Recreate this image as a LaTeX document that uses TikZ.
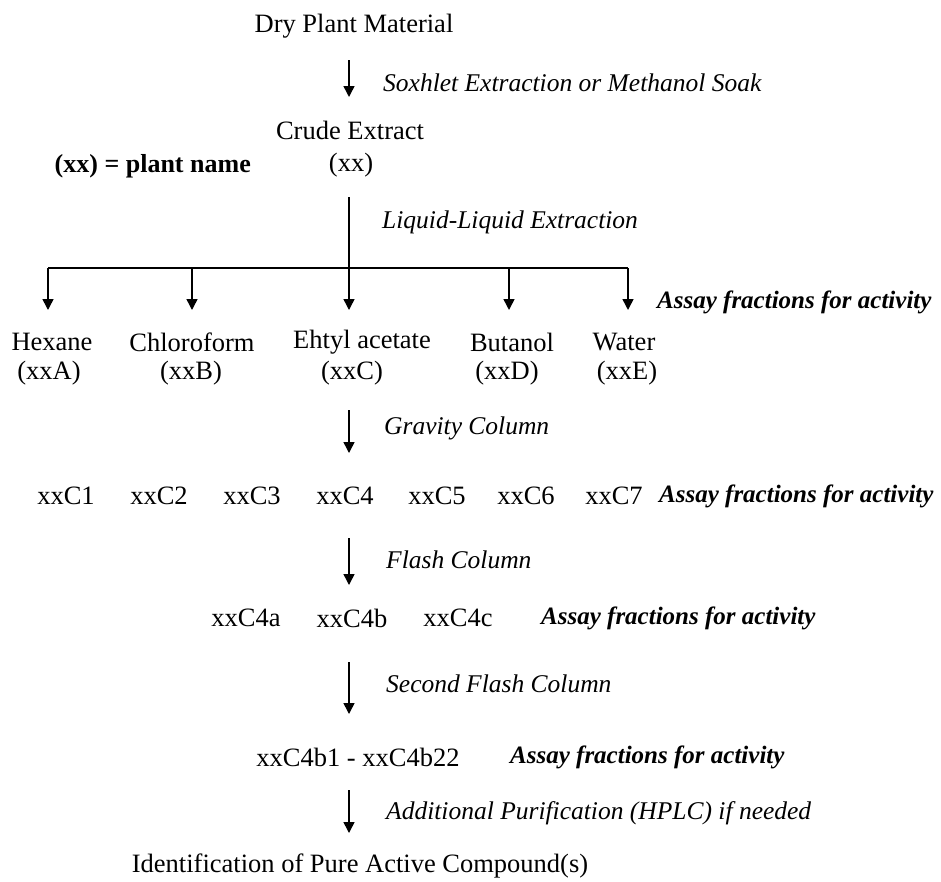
\documentclass[tikz,border=0pt]{standalone}
\usepackage{fontspec}
\setmainfont{Liberation Serif}
\usetikzlibrary{arrows.meta}
\begin{document}
\begin{tikzpicture}[x=1pt,y=-1pt,
  txt/.style={font=\fontsize{26.5}{28}\selectfont, inner sep=0pt},
  lab/.style={font=\fontsize{25.5}{28}\selectfont\itshape, inner sep=0pt, anchor=west},
  assay/.style={font=\fontsize{25}{28}\selectfont\bfseries\itshape, inner sep=0pt, anchor=west},
  flow/.style={line width=1.5pt, -{Triangle[width=11pt,length=11pt]}},
  line/.style={line width=1.5pt}]
\useasboundingbox (0,0) rectangle (941,881);
\coordinate (axis) at (349,0);

\node[txt] (dry) at (354,26) {Dry Plant Material};
\node[lab] (sox) at (383,83) {Soxhlet Extraction or Methanol Soak};
\node[txt] (crude) at (350,130) {Crude Extract};
\node[txt] (xx) at (351,165) {(xx)};
\node[txt, font=\fontsize{26}{28}\selectfont\bfseries, anchor=east] (pn) at (251,166) {(xx) = plant name};
\node[lab] (lle) at (382,222) {Liquid-Liquid Extraction};

\draw[flow, shorten <=34pt, shorten >=33pt] (axis|-dry) -- (axis|-crude);

\coordinate (busC) at (349,268);
\coordinate (busA) at (48,268);
\coordinate (busB) at (192,268);
\coordinate (busD) at (509,268);
\coordinate (busE) at (628,268);

\node[txt] (hex) at (52,342) {Hexane};
\node[txt] (hexs) at (49,373) {(xxA)};
\node[txt] (chl) at (192,342) {Chloroform};
\node[txt] (chls) at (191,373) {(xxB)};
\node[txt] (eth) at (362,342) {Ehtyl acetate};
\node[txt] (eths) at (352,373) {(xxC)};
\node[txt] (but) at (512,342) {Butanol};
\node[txt] (buts) at (507,373) {(xxD)};
\node[txt] (wat) at (624,342) {Water};
\node[txt] (wats) at (627,373) {(xxE)};
\node[assay] (as1) at (657,302) {Assay fractions for activity};

\draw[line, shorten <=32pt] (axis|-xx) -- (busC);
\draw[line] (busA) -- (busE);
\draw[flow, shorten >=32pt] (busA) -- (busA|-hex);
\draw[flow, shorten >=32pt] (busB) -- (busB|-chl);
\draw[flow, shorten >=32pt] (busC) -- (busC|-eth);
\draw[flow, shorten >=32pt] (busD) -- (busD|-but);
\draw[flow, shorten >=32pt] (busE) -- (busE|-wat);

\node[lab] (grav) at (384,428) {Gravity Column};
\node[txt] (c1) at (66,496) {xxC1};
\node[txt] (c2) at (159,496) {xxC2};
\node[txt] (c3) at (252,496) {xxC3};
\node[txt] (c4) at (345,496) {xxC4};
\node[txt] (c5) at (437,496) {xxC5};
\node[txt] (c6) at (526,496) {xxC6};
\node[txt] (c7) at (614,496) {xxC7};
\node[assay] (as2) at (659,496) {Assay fractions for activity};
\draw[flow, shorten <=37pt, shorten >=43pt] (axis|-eths) -- (axis|-c4);

\node[lab] (fl) at (386,560) {Flash Column};
\node[txt] (c4a) at (246,618) {xxC4a};
\node[txt] (c4b) at (352,618) {xxC4b};
\node[txt] (c4c) at (458,618) {xxC4c};
\node[assay] (as3) at (541,618) {Assay fractions for activity};
\draw[flow, shorten <=42pt, shorten >=33pt] (axis|-c4) -- (axis|-c4b);

\node[lab] (sfl) at (386,684) {Second Flash Column};
\node[txt] (c4bx) at (358,757) {xxC4b1 - xxC4b22};
\node[assay] (as4) at (510,757) {Assay fractions for activity};
\draw[flow, shorten <=44pt, shorten >=43pt] (axis|-c4b) -- (axis|-c4bx);

\node[lab] (add) at (386,813) {Additional Purification (HPLC) if needed};
\node[txt] (id) at (360,866) {Identification of Pure Active Compound(s)};
\draw[flow, shorten <=33pt, shorten >=33pt] (axis|-c4bx) -- (axis|-id);
\end{tikzpicture}
\end{document}
